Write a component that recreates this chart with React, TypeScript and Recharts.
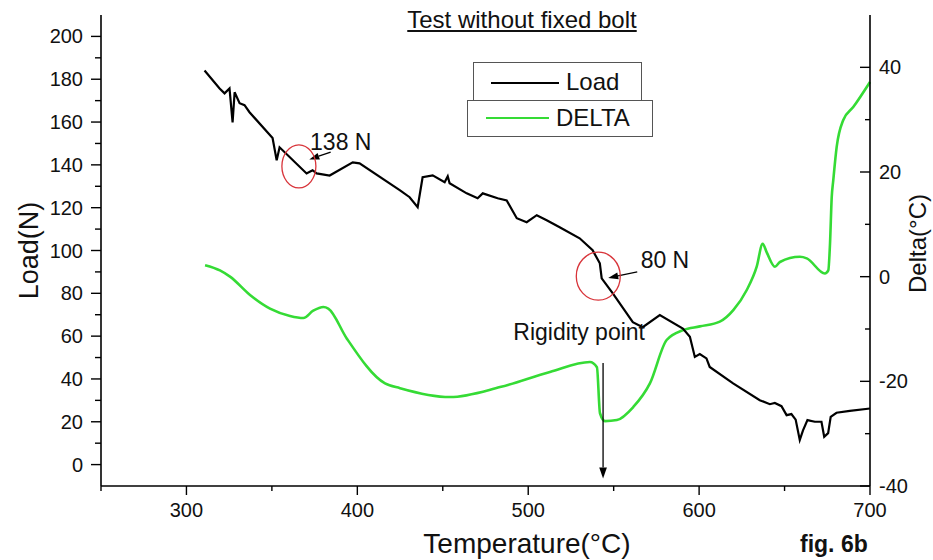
import React from 'react';
import { ComposedChart, Line, XAxis, YAxis, Legend, ReferenceDot, ReferenceLine, Label } from 'recharts';

const FONT = '"Liberation Sans", Arial, Helvetica, sans-serif';

// Load (N) vs temperature
const loadTemps = [
    310.6, 319.4, 322.3, 325.2, 327, 328.2, 331.1, 334, 336.9, 350.4, 352.8, 354.5, 370.3, 373.8, 376.2,
    383.8, 397.3, 401.3, 425, 430.6, 435.3, 438.2, 444.1, 451.1, 452.9, 454, 464, 470.4, 473.4, 482.1,
    487.4, 493.3, 499.1, 505, 510.8, 518.4, 530.1, 537.7, 541.9, 543, 549.5, 561.2, 567, 577, 590.5,
    594.6, 597.5, 600.4, 604.3, 606.2, 619.9, 635.5, 641.4, 644.3, 648.2, 651.2, 654, 656.5, 658.9,
    660.8, 663.4, 667.7, 671.6, 673.2, 675.5, 677, 680.4, 688.2, 700,
];
const loadValues = [
    184.1, 175.7, 173.4, 175.7, 159.8, 173.9, 168.8, 167.9, 164.6, 152.5, 142.1, 148.2, 136, 137.5, 136,
    135, 141.2, 140.7, 128.1, 124.9, 120.2, 134.2, 135.1, 131.9, 134.7, 131.4, 126.7, 124.4, 126.7, 124.4,
    123.4, 115.1, 113.2, 116.5, 114.1, 110.9, 105.7, 100.1, 94, 87, 80, 66.5, 64.2, 69.8, 63.5,
    59.7, 50.3, 51.6, 49.6, 45.6, 37.9, 30.1, 28.2, 28.8, 27.3, 23.1, 23.6, 21, 11.5,
    16, 20.8, 20, 20, 13, 14.7, 22.3, 24.2, 25.1, 26.2,
];

// DELTA (°C) vs temperature
const deltaTemps = [
    310.9, 319.6, 325.5, 337.2, 348.9, 360.6, 368.4, 374.2, 380.1, 383, 393.8, 416.2, 425, 454.2,
    483.5, 512.7, 536.1, 540.2, 542, 544.9, 551.9, 561.5, 571.2, 581, 590.7, 600.4, 612.1, 620, 627.8,
    633.7, 637.2, 639.5, 644.4, 647.3, 659, 663, 673.6, 675.6, 676.6, 677.6, 678.5, 680.5, 684.3, 690.2, 700,
];
const deltaValues = [
    2.2, 1.2, 0, -3.5, -6.1, -7.5, -7.9, -6.5, -5.8, -6.1, -11.8, -20.4, -21.3, -23,
    -21.1, -18.2, -16.3, -17.3, -26.1, -27.6, -27.4, -24.9, -20.4, -12.1, -10.2, -9.5, -8.6, -6.4, -2.6,
    1.9, 6.3, 4.7, 1.9, 2.8, 3.8, 3.5, 0.6, 1.2, 6.3, 15.2, 18.4, 24.8, 29.9, 32.4, 37.2,
];

const xTicks = [250, 300, 350, 400, 450, 500, 550, 600, 650, 700];
const loadTicks = [0, 10, 20, 30, 40, 50, 60, 70, 80, 90, 100, 110, 120, 130, 140, 150, 160, 170, 180, 190, 200];
const deltaTicks = [-40, -30, -20, -10, 0, 10, 20, 30, 40];

const loadData = loadTemps.map((t, i) => ({ t, v: loadValues[i] }));
const deltaData = deltaTemps.map((t, i) => ({ t, v: deltaValues[i] }));

const GREEN = '#35db35';
const RED = '#d8343a';

const XTick = (props: any) => {
    const { x, y, payload } = props;
    const major = payload.value % 100 === 0;
    return (
        <g>
            <line x1={x} y1={y} x2={x} y2={y + (major ? 9 : 5)} stroke="#000" strokeWidth={1.4} />
            {major && (
                <text x={x} y={y + 31} textAnchor="middle" fontSize={20} fontFamily={FONT} fill="#111">
                    {payload.value}
                </text>
            )}
        </g>
    );
};

const LeftTick = (props: any) => {
    const { x, y, payload } = props;
    const major = payload.value % 20 === 0;
    return (
        <g>
            <line x1={x} y1={y} x2={x - (major ? 10 : 6)} y2={y} stroke="#000" strokeWidth={1.4} />
            {major && (
                <text x={x - 18} y={y + 7} textAnchor="end" fontSize={20} fontFamily={FONT} fill="#111">
                    {payload.value}
                </text>
            )}
        </g>
    );
};

const RightTick = (props: any) => {
    const { x, y, payload } = props;
    const major = payload.value % 20 === 0;
    return (
        <g>
            <line x1={x} y1={y} x2={x - (major ? 10 : 5)} y2={y} stroke="#000" strokeWidth={1.4} />
            {major && (
                <text x={x + 9} y={y + 7} textAnchor="start" fontSize={20} fontFamily={FONT} fill="#111">
                    {payload.value}
                </text>
            )}
        </g>
    );
};

const arrow = (head: number) => (p: any) => {
    const { x1, y1, x2, y2 } = p;
    const a = Math.atan2(y2 - y1, x2 - x1);
    const w = head * 0.35;
    const bx = x2 - head * Math.cos(a);
    const by = y2 - head * Math.sin(a);
    const pts = `${x2},${y2} ${bx + w * Math.sin(a)},${by - w * Math.cos(a)} ${bx - w * Math.sin(a)},${by + w * Math.cos(a)}`;
    return (
        <g>
            <line x1={x1} y1={y1} x2={bx} y2={by} stroke="#000" strokeWidth={1.3} />
            <polygon points={pts} fill="#000" />
        </g>
    );
};

const ellipse = (rx: number, ry: number) => (p: any) => (
    <ellipse cx={p.cx} cy={p.cy} rx={rx} ry={ry} fill="none" stroke={RED} strokeWidth={1.3} />
);

const note = (text: string) => (p: any) => (
    <text x={p.cx} y={p.cy} dy="0.35em" textAnchor="middle" fontSize={23} fontFamily={FONT} fill="#111">
        {text}
    </text>
);

const LegendBoxes = () => (
    <div style={{ position: 'relative', width: 186, height: 75, fontFamily: FONT, color: '#111' }}>
        <div style={{ position: 'absolute', left: 6, top: 0, width: 167, height: 37, border: '1px solid #555', background: '#fff' }}>
            <div style={{ position: 'absolute', left: 17, top: 19, width: 68, borderTop: '2px solid #000' }} />
            <div style={{ position: 'absolute', left: 92, top: 4, fontSize: 24, lineHeight: '30px' }}>Load</div>
        </div>
        <div style={{ position: 'absolute', left: 0, top: 38, width: 184, height: 35, border: '1px solid #555', background: '#fff' }}>
            <div style={{ position: 'absolute', left: 18, top: 16, width: 63, borderTop: `2.5px solid ${GREEN}` }} />
            <div style={{ position: 'absolute', left: 88, top: 2, fontSize: 24, lineHeight: '30px' }}>DELTA</div>
        </div>
    </div>
);

const App: React.FC = () => {
    return (
        <div style={{ position: 'absolute', left: 0, top: 0, width: 933, height: 560, background: '#fff', fontFamily: FONT }}>
            <div
                style={{
                    position: 'absolute', left: 322, top: 6, width: 400, textAlign: 'center',
                    fontSize: 24, textDecoration: 'underline', color: '#111', zIndex: 2,
                }}
            >
                Test without fixed bolt
            </div>
            <ComposedChart width={933} height={560} margin={{ top: 15, right: 0, left: 0, bottom: 0 }}>
                <XAxis
                    dataKey="t"
                    type="number"
                    domain={[250, 700]}
                    ticks={xTicks}
                    interval={0}
                    height={74}
                    tickSize={0}
                    tickMargin={0}
                    tickLine={false}
                    tick={<XTick />}
                    axisLine={{ stroke: '#000', strokeWidth: 1.6 }}
                >
                    <Label
                        content={(p: any) => {
                            const vb = p.viewBox;
                            return (
                                <g fontFamily={FONT} fill="#111">
                                    <text x={527} y={vb.y + 67} textAnchor="middle" fontSize={28}>Temperature(°C)</text>
                                    <text x={800} y={vb.y + 66} fontSize={23} fontWeight="bold">fig. 6b</text>
                                </g>
                            );
                        }}
                    />
                </XAxis>
                <YAxis
                    yAxisId="left"
                    type="number"
                    domain={[-10, 210]}
                    ticks={loadTicks}
                    interval={0}
                    width={101}
                    tickSize={0}
                    tickMargin={0}
                    tickLine={false}
                    tick={<LeftTick />}
                    axisLine={{ stroke: '#000', strokeWidth: 1.6 }}
                >
                    <Label
                        content={(p: any) => {
                            const vb = p.viewBox;
                            const cy = vb.y + vb.height / 2;
                            return (
                                <text x={29} y={cy} transform={`rotate(-90 29 ${cy})`} dy="0.35em" textAnchor="middle" fontSize={27} fontFamily={FONT} fill="#111">
                                    Load(N)
                                </text>
                            );
                        }}
                    />
                </YAxis>
                <YAxis
                    yAxisId="right"
                    orientation="right"
                    type="number"
                    domain={[-40, 50]}
                    ticks={deltaTicks}
                    interval={0}
                    width={63}
                    tickSize={0}
                    tickMargin={0}
                    tickLine={false}
                    tick={<RightTick />}
                    axisLine={{ stroke: '#000', strokeWidth: 1.6 }}
                >
                    <Label
                        content={(p: any) => {
                            const vb = p.viewBox;
                            const cx = vb.x + 48;
                            const cy = vb.y + vb.height / 2 - 7;
                            return (
                                <text x={cx} y={cy} transform={`rotate(-90 ${cx} ${cy})`} dy="0.35em" textAnchor="middle" fontSize={24} fontFamily={FONT} fill="#111">
                                    Delta(°C)
                                </text>
                            );
                        }}
                    />
                </YAxis>
                <Legend
                    verticalAlign="middle"
                    align="center"
                    layout="horizontal"
                    wrapperStyle={{ left: 467, top: 62, width: 190, height: 76 }}
                    content={() => <LegendBoxes />}
                />
                <Line
                    yAxisId="right"
                    data={deltaData}
                    dataKey="v"
                    name="DELTA"
                    type="monotone"
                    stroke={GREEN}
                    strokeWidth={2.6}
                    dot={false}
                    isAnimationActive={false}
                />
                <Line
                    yAxisId="left"
                    data={loadData}
                    dataKey="v"
                    name="Load"
                    type="linear"
                    stroke="#000"
                    strokeWidth={2.2}
                    dot={false}
                    isAnimationActive={false}
                />
                <ReferenceDot yAxisId="left" x={365.8} y={139.3} r={0} shape={ellipse(17, 21.5)} />
                <ReferenceDot yAxisId="left" x={541} y={88} r={0} shape={ellipse(22, 24)} />
                <ReferenceLine yAxisId="left" segment={[{ x: 384.4, y: 146 }, { x: 371.9, y: 142.5 }]} shape={arrow(10)} />
                <ReferenceLine yAxisId="left" segment={[{ x: 563.8, y: 90 }, { x: 546.8, y: 87.2 }]} shape={arrow(10)} />
                <ReferenceLine yAxisId="left" segment={[{ x: 543.8, y: 47.4 }, { x: 543.8, y: -6.5 }]} shape={arrow(11)} />
                <ReferenceDot yAxisId="left" x={390.3} y={150.8} r={0} shape={note('138 N')} />
                <ReferenceDot yAxisId="left" x={580} y={95.4} r={0} shape={note('80 N')} />
                <ReferenceDot yAxisId="left" x={529.8} y={62} r={0} shape={note('Rigidity point')} />
            </ComposedChart>
        </div>
    );
};

export default App;
